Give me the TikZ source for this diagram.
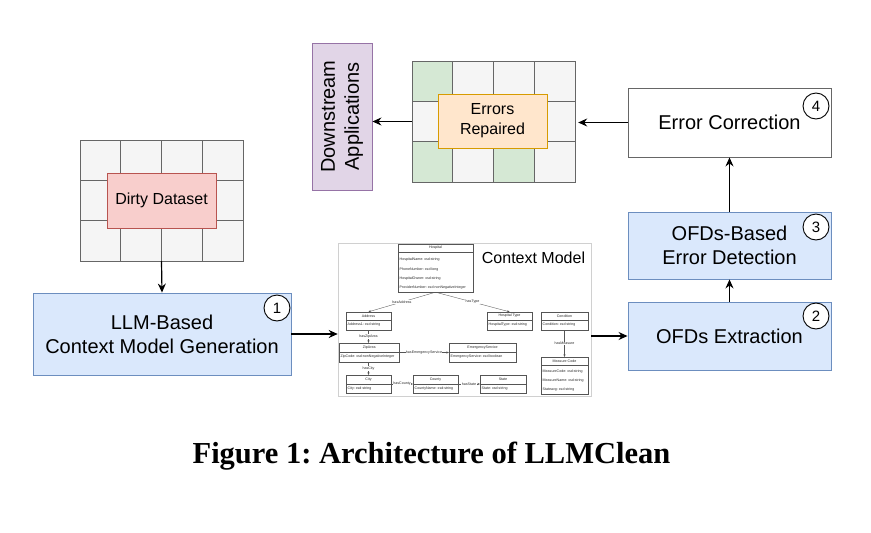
\documentclass[tikz,border=0pt]{standalone}
\usepackage{fontspec}
\setmainfont{Liberation Sans}
\newfontfamily\capfont{Liberation Serif}
\usetikzlibrary{arrows.meta,fit}
\definecolor{bluefill}{HTML}{DAE8FC}
\definecolor{bluedraw}{HTML}{6C8EBF}
\definecolor{redfill}{HTML}{F8CECC}
\definecolor{reddraw}{HTML}{B85450}
\definecolor{orfill}{HTML}{FFE6CC}
\definecolor{ordraw}{HTML}{D79B00}
\definecolor{purfill}{HTML}{E1D5E7}
\definecolor{purdraw}{HTML}{9673A6}
\definecolor{greenfill}{HTML}{D5E8D4}
\definecolor{cellfill}{HTML}{F5F5F5}
\definecolor{celldraw}{HTML}{666666}
\definecolor{umlline}{HTML}{555555}
\definecolor{ctxborder}{HTML}{D0D0D0}
\frenchspacing
\newcommand{\ucls}[7]{%
  \node[fit={(#2,#3) (#4,#5)}, inner sep=0pt, draw=umlline, line width=0.4pt, fill=white] (#1) {};
  \draw[umlline, line width=0.4pt] (#2,#6) -- (#4,#6);
  \node[utext] at ({(#2+#4)/2},{(#3+#6)/2}) {#7};
}
\newcommand{\uattr}[3]{\node[utext, anchor=west] at (#1,#2) {#3};}
\begin{document}
\begin{tikzpicture}[x=1pt,y=-1pt,
  procbox/.style={draw=bluedraw, fill=bluefill, line width=0.9pt, align=center,
    font=\fontsize{20}{24}\selectfont, inner sep=0pt},
  numcirc/.style={circle, draw=black, fill=white, line width=0.9pt, minimum size=26pt,
    inner sep=0pt, font=\fontsize{15}{18}\selectfont},
  flow/.style={line width=1.2pt, -{Stealth[length=9pt,width=8pt,inset=3pt]}},
  cell/.style={draw=celldraw, line width=0.9pt},
  utext/.style={font=\fontsize{3.6}{4}\selectfont, inner sep=0pt, text=black!85},
  uedge/.style={draw=umlline, line width=0.35pt, -{Stealth[length=2.4pt,width=2.2pt]}},
  ulbl/.style={utext, fill=white, inner sep=0.4pt}
]
\useasboundingbox (0,0) rectangle (871,533);

% ---------- Dirty dataset grid ----------
\foreach \c in {0,...,3}
  \foreach \r in {0,...,2}
    \draw[cell, fill=cellfill] ({80+\c*40.75},{140+\r*40.33}) rectangle ++(40.75,40.33);
\node[fit={(80,140) (243,261)}, inner sep=0pt] (dgrid) {};
\node[draw=reddraw, fill=redfill, line width=0.9pt, minimum width=109pt, minimum height=55pt,
  font=\fontsize{16}{19}\selectfont] (dirty) at (161.5,200.5) {Dirty Dataset};

% ---------- LLM box ----------
\node[procbox, minimum width=258pt, minimum height=82pt] (llm) at (162,334)
  {LLM-Based\\Context Model Generation};
\node[numcirc] (n1) at (277,308) {1};

% ---------- Context model ----------
\node[fit={(338,243) (591,396)}, inner sep=0pt, draw=ctxborder, line width=0.6pt, fill=white] (ctx) {};
\node[font=\fontsize{16}{19}\selectfont, inner sep=0pt] (ctxtitle) at (533.5,258) {Context Model};

\ucls{hosp}{398}{244}{473}{292}{252}{Hospital}
\uattr{399.5}{260}{HospitalName: xsd:string}
\uattr{399.5}{270}{PhoneNumber: xsd:long}
\uattr{399.5}{279}{HospitalOwner: xsd:string}
\uattr{399.5}{288}{ProviderNumber: xsd:nonNegativeInteger}
\ucls{addr}{346}{312}{391}{330}{320}{Address}
\uattr{347.5}{325}{Address1: xsd:string}
\ucls{htype}{487}{312}{532}{330}{320}{Hospital Type}
\uattr{488.5}{325}{HospitalType: xsd:string}
\ucls{cond}{541}{312}{588}{330}{320}{Condition}
\uattr{542.5}{325}{Condition: xsd:string}
\ucls{zip}{339.5}{343}{399}{362}{352}{ZipArea}
\uattr{340.5}{357}{ZipCode: xsd:nonNegativeInteger}
\ucls{emer}{449}{343}{516}{362}{352}{EmergencyService}
\uattr{450.5}{357}{EmergencyService: xsd:boolean}
\ucls{mcode}{541}{357}{588}{394}{365}{Measure Code}
\uattr{542.5}{372}{MeasureCode: xsd:string}
\uattr{542.5}{381}{MeasureName: xsd:string}
\uattr{542.5}{390}{Stateavg: xsd:string}
\ucls{city}{346}{375}{391}{393}{384}{City}
\uattr{347.5}{389}{City: xsd:string}
\ucls{county}{413}{375}{458}{393}{384}{County}
\uattr{414.5}{389}{CountyName: xsd:string}
\ucls{state}{480}{375}{526}{393}{384}{State}
\uattr{481.5}{389}{State: xsd:string}

\draw[uedge] (hosp.south) -- node[ulbl]{hasAddress} (addr.north);
\draw[uedge] (hosp.south) -- node[ulbl]{hasType} (htype.north);
\draw[uedge] (addr.south) -- node[ulbl]{hasZipArea} (addr.south |- zip.north);
\draw[uedge] (zip.east) -- node[ulbl]{hasEmergencyService} (emer.west);
\draw[uedge] (city.north |- zip.south) -- node[ulbl]{hasCity} (city.north);
\draw[uedge] (city.east) -- node[ulbl]{hasCounty} (county.west);
\draw[uedge] (county.east) -- node[ulbl]{hasState} (state.west);
\draw[uedge] (cond.south) -- node[ulbl]{hasMeasure} (mcode.north);

% ---------- Right column ----------
\node[procbox, minimum width=203pt, minimum height=68pt] (ext) at (729.5,336) {OFDs Extraction};
\node[numcirc] (n2) at (816,316) {2};
\node[procbox, minimum width=203pt, minimum height=67pt] (det) at (729.5,245.5) {OFDs-Based\\Error Detection};
\node[numcirc] (n3) at (816,227) {3};
\node[procbox, draw=celldraw, fill=white, minimum width=203pt, minimum height=69pt] (corr) at (729.5,122.5) {Error Correction};
\node[numcirc] (n4) at (816,106) {4};

% ---------- Repaired grid ----------
\foreach \c in {0,...,3}
  \foreach \r in {0,...,2}
    \draw[cell, fill=cellfill] ({412+\c*40.75},{61+\r*40.33}) rectangle ++(40.75,40.33);
\draw[cell, fill=greenfill] (412,61) rectangle ++(40.75,40.33);
\draw[cell, fill=greenfill] (412,141.67) rectangle ++(40.75,40.33);
\draw[cell, fill=greenfill] (493.5,141.67) rectangle ++(40.75,40.33);
\node[fit={(412,61) (575,182)}, inner sep=0pt] (rgrid) {};
\node[draw=ordraw, fill=orfill, line width=0.9pt, minimum width=109pt, minimum height=54pt,
  align=center, font=\fontsize{16}{20}\selectfont] (rep) at (492.5,121) {Errors\\Repaired};

% ---------- Downstream ----------
\node[draw=purdraw, fill=purfill, line width=0.9pt, minimum width=147pt, minimum height=60pt,
  rotate=90, align=center, font=\fontsize{20}{24}\selectfont, inner sep=0pt] (down) at (342,116.5)
  {Downstream\\Applications};

% ---------- Connectors ----------
\draw[flow] (dgrid.south) -- (llm.north);
\draw[flow] (llm.east) -- (llm.east -| ctx.west);
\draw[flow] (ext.west -| ctx.east) -- (ext.west);
\draw[flow] (ext.north) -- (det.south);
\draw[flow] (det.north) -- (corr.south);
\draw[flow] (corr.west) -- ([xshift=3pt]corr.west -| rgrid.east);
\draw[flow] (rgrid.west) -- (rgrid.west -| down.south);

% ---------- Caption ----------
\node[anchor=base, inner sep=0pt, font=\capfont\bfseries\fontsize{30.5}{36}\selectfont] (cap) at (431.5,463)
  {Figure 1: Architecture of LLMClean};
\end{tikzpicture}
\end{document}
